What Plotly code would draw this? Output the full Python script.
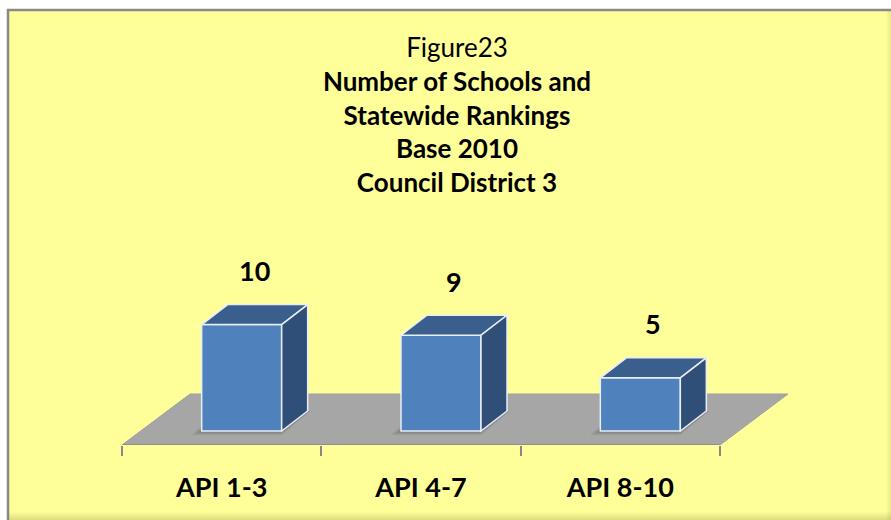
import plotly.graph_objects as go

# ---------------- data ----------------
categories = ["API 1-3", "API 4-7", "API 8-10"]
schools = [10, 9, 5]
title_lines = ["Figure23", "Number of Schools and", "Statewide Rankings",
               "Base 2010", "Council District 3"]

# ---------------- geometry (pixels) ----------------
W, H = 891, 520
L, R, T, B = 100, 91, 200, 75          # plot-area margins
PW, PH = W - L - R, H - T - B
FLOOR_LEFT_PX, FLOOR_RIGHT_PX = 122, 720
FLOOR_FRONT_PX = H - B                 # front edge of the floor
BASE_PX = 431                          # pixel row of value 0 (bar bottoms)
KY = 10.64                             # pixels per school
KX = (FLOOR_RIGHT_PX - FLOOR_LEFT_PX) / len(categories)
FLOOR_DEPTH = (68, 51)
BAR_DEPTH = (26, 20)
BAR_W_PX = 80
BAR_SHIFT_PX = 20

FONT = "Lato"
FS = 26

x0 = -0.5 - (FLOOR_LEFT_PX - L) / KX
x1 = x0 + PW / KX
y0 = -(FLOOR_FRONT_PX - BASE_PX) / KY
y1 = y0 + PH / KY


def px_x(px):
    return (px - L) / PW


def px_y(py):
    return (H - B - py) / PH


n = len(categories)
bw = BAR_W_PX / KX
boff = (BAR_SHIFT_PX - BAR_W_PX / 2) / KX
bdx, bdy = BAR_DEPTH[0] / KX, BAR_DEPTH[1] / KY
fdx, fdy = FLOOR_DEPTH[0] / KX, FLOOR_DEPTH[1] / KY

fig = go.Figure()
fig.add_trace(go.Bar(
    x=list(range(n)), y=schools, width=bw, offset=boff,
    marker=dict(color="#4F81BD", line=dict(color="#E8EEF6", width=1.5)),
    hoverinfo="skip", showlegend=False,
))

shapes = []
# background frame
shapes.append(dict(type="rect", xref="paper", yref="paper", layer="below",
                   x0=px_x(8), x1=px_x(W + 6), y0=px_y(H + 6), y1=px_y(10),
                   fillcolor="#FFFF99", line=dict(color="#888888", width=2.5)))
for k in range(8):
    shapes.append(dict(type="rect", xref="paper", yref="paper", layer="below",
                       x0=px_x(8), x1=px_x(W + 6), y0=px_y(H - k), y1=px_y(H - k - 1),
                       fillcolor="rgba(120,120,60,%.3f)" % (0.03 * (8 - k)), line_width=0))
for k in range(5):
    shapes.append(dict(type="rect", xref="paper", yref="paper", layer="below",
                       x0=px_x(W - k - 1), x1=px_x(W - k), y0=px_y(H), y1=px_y(11),
                       fillcolor="rgba(120,120,60,%.3f)" % (0.03 * (5 - k)), line_width=0))

# floor
fl, fr = -0.5, n - 0.5
shapes.append(dict(type="path", layer="below",
                   path=f"M{fl},{y0} L{fr},{y0} L{fr + fdx},{y0 + fdy} L{fl + fdx},{y0 + fdy} Z",
                   fillcolor="#A6A6A6", line=dict(color="#A0A0A0", width=1)))
shapes.append(dict(type="line", layer="below", x0=fl, x1=fr, y0=y0, y1=y0,
                   line=dict(color="#8E8E8E", width=2)))

# soft shadows under the bars
for i, v in enumerate(schools):
    xl = i + boff
    xr = xl + bw
    for s, a in ((10, 0.10), (6, 0.12), (3, 0.14)):
        sx, sy = s / KX, s / KY
        shapes.append(dict(type="path", layer="below",
                           path=(f"M{xl - sx},{-sy * 0.4} L{xr},{-sy * 0.4} "
                                 f"L{xr + bdx + sx * 0.3},{bdy} L{xl + bdx - sx},{bdy} Z"),
                           fillcolor=f"rgba(40,40,40,{a})", line_width=0))

# 3D top and side faces
for i, v in enumerate(schools):
    xl = i + boff
    xr = xl + bw
    shapes.append(dict(type="path",
                       path=f"M{xl},{v} L{xr},{v} L{xr + bdx},{v + bdy} L{xl + bdx},{v + bdy} Z",
                       fillcolor="#3A5F8D", line=dict(color="#E8EEF6", width=1.5)))
    shapes.append(dict(type="path",
                       path=f"M{xr},0 L{xr},{v} L{xr + bdx},{v + bdy} L{xr + bdx},{bdy} Z",
                       fillcolor="#304F78", line=dict(color="#E8EEF6", width=1.5)))

annotations = []
for i, v in enumerate(schools):
    annotations.append(dict(x=i + (BAR_SHIFT_PX + BAR_DEPTH[0] / 2) / KX, y=v,
                            text=f"<b>{v}</b>", showarrow=False, yshift=54,
                            font=dict(family=FONT, size=27, color="black")))

title_text = title_lines[0] + "<br>" + "<br>".join(f"<b>{t}</b>" for t in title_lines[1:])

fig.update_layout(
    width=W, height=H,
    margin=dict(l=L, r=R, t=T, b=B, autoexpand=False),
    paper_bgcolor="white", plot_bgcolor="rgba(0,0,0,0)",
    title=dict(text=title_text, x=457 / W, xanchor="center", y=1 - 57 / H,
               yanchor="top", yref="container",
               font=dict(family=FONT, size=FS, color="black")),
    xaxis=dict(range=[x0, x1], tickmode="array", tickvals=list(range(n)),
               ticktext=[f"<b>{c}</b>" for c in categories], ticks="",
               showgrid=False, zeroline=False, showline=False,
               tickfont=dict(family=FONT, size=27, color="black"),
               ticklabelstandoff=24,
               minor=dict(tickmode="array", tickvals=[k - 0.5 for k in range(n + 1)],
                          ticks="outside", ticklen=10, tickcolor="#888888",
                          tickwidth=1.5, showgrid=False)),
    yaxis=dict(range=[y0, y1], visible=False, showgrid=False, zeroline=False),
    shapes=shapes, annotations=annotations, showlegend=False,
)

fig.write_html("out.html", config={"displayModeBar": False},
               post_script="document.body.style.margin='0';document.body.style.overflow='hidden';")
